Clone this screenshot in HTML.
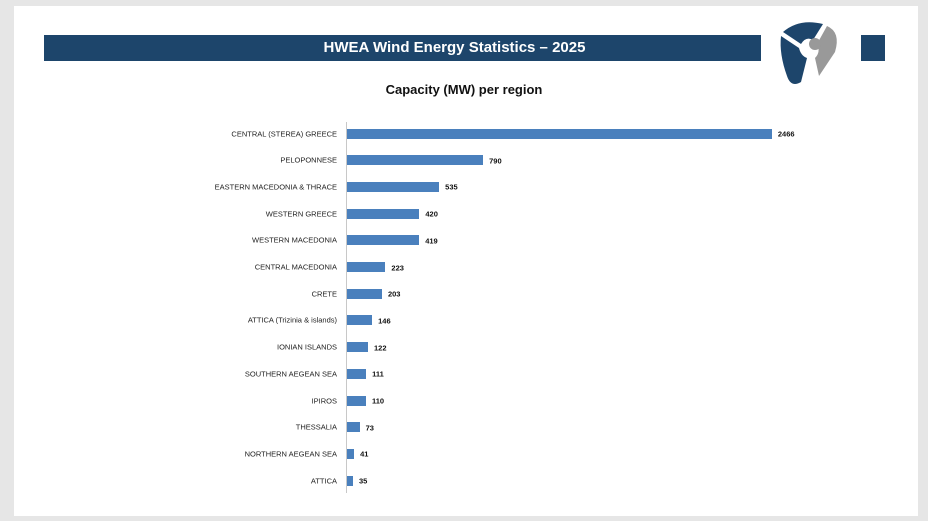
<!DOCTYPE html>
<html><head><style>
body{margin:0;width:928px;height:521px;background:#e6e6e6;position:relative;overflow:hidden;font-family:"Liberation Sans",sans-serif}
.panel{position:absolute;left:14px;top:6px;width:904px;height:510px;background:#fff}
.banner{position:absolute;left:44px;top:35px;width:841px;height:26px;background:#1d456b;color:#fff;font-weight:bold;font-size:15px;line-height:26px;text-align:center;text-indent:-20px}
.logo{position:absolute;left:761px;top:10px;width:100px;height:90px;background:#fff}
.t{position:absolute;left:0;width:928px;top:82px;text-align:center;font-weight:bold;font-size:13px;color:#111}
.axis{position:absolute;left:346px;top:122px;width:1px;height:371px;background:#c8c8c8}
.lab{position:absolute;right:591px;font-size:7.5px;color:#222;white-space:nowrap;transform:translateY(-50%)}
.bar{position:absolute;left:347px;height:10px;background:#4a80bd;transform:translateY(-50%)}
.val{position:absolute;font-size:7.5px;font-weight:bold;color:#111;transform:translateY(-50%)}
</style></head><body>
<div class="panel"></div>
<div class="banner">HWEA Wind Energy Statistics – 2025</div>
<div class="logo"><svg width="100" height="90" viewBox="0 0 100 90">
<path d="M22 22 Q38 8 62 14 L52 30 Q45 26 40 34 Z" fill="#1d456b"/>
<path d="M20 26 L38 38 Q40 46 46 48 L40 72 Q30 78 26 66 Q18 44 20 26Z" fill="#1d456b"/>
<path d="M66 16 Q80 22 74 42 L58 66 L54 48 Q60 42 56 34 Z" fill="#999"/>
<circle cx="54" cy="34" r="6" fill="#999"/>
</svg></div>
<div class="t">Capacity (MW) per region</div>
<div class="axis"></div>
<div id="c"></div>
<script>
var d=[["CENTRAL (STEREA) GREECE",2466],["PELOPONNESE",790],["EASTERN MACEDONIA & THRACE",535],["WESTERN GREECE",420],["WESTERN MACEDONIA",419],["CENTRAL MACEDONIA",223],["CRETE",203],["ATTICA (Trizinia & islands)",146],["IONIAN ISLANDS",122],["SOUTHERN AEGEAN SEA",111],["IPIROS",110],["THESSALIA",73],["NORTHERN AEGEAN SEA",41],["ATTICA",35]];
var h="";d.forEach(function(r,i){var y=133.5+i*26.7,w=r[1]*0.1723;
h+='<div class="lab" style="top:'+y+'px">'+r[0]+'</div><div class="bar" style="top:'+y+'px;width:'+w+'px"></div><div class="val" style="top:'+(y+0.5)+'px;left:'+(353+w)+'px">'+r[1]+'</div>';});
document.getElementById("c").innerHTML=h;
</script>
</body></html>
